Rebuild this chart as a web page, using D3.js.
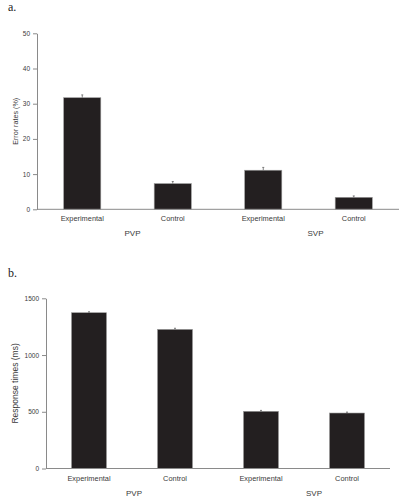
<!DOCTYPE html>
<html>
<head>
<meta charset="utf-8">
<script src="https://cdn.jsdelivr.net/npm/d3@7"></script>
<style>
  body { margin: 0; background: #fff; }
  svg { display: block; }
  text { font-family: "Liberation Sans", Arial, sans-serif; fill: #3a3a3a; }
</style>
</head>
<body>
<div id="chart"></div>
<script>
// data
var categories = ["Experimental", "Control", "Experimental", "Control"];
var groups = ["PVP", "SVP"];
var errorRates = [31.7, 7.3, 11.1, 3.4];
var errorRatesSE = [0.8, 0.6, 0.8, 0.4];
var responseTimes = [1373, 1226, 504, 489];
var responseTimesSE = [8, 10, 8, 8];
var errorTicks = [0, 10, 20, 30, 40, 50];
var timeTicks = [0, 500, 1000, 1500];

var svg = d3.select("#chart").append("svg")
    .attr("width", 399)
    .attr("height", 499);

function drawPanel(opt) {
    var g = svg.append("g");
    var idx = d3.range(categories.length);

    var x = d3.scaleBand()
        .domain(idx)
        .range([opt.left, opt.right])
        .paddingInner(opt.padIn)
        .paddingOuter(opt.padIn / 2);

    var y = d3.scaleLinear()
        .domain([0, d3.max(opt.ticks)])
        .range([opt.bottom, opt.top]);

    // panel letter
    g.append("text")
        .attr("x", 8)
        .attr("y", opt.letterY)
        .style("font-family", "'Liberation Serif', 'Times New Roman', serif")
        .style("font-size", "12px")
        .style("fill", "#222")
        .text(opt.letter);

    // bars
    g.selectAll("rect.bar")
        .data(opt.values)
        .enter()
        .append("rect")
        .attr("class", "bar")
        .attr("x", function (d, i) { return x(i); })
        .attr("y", function (d) { return y(d); })
        .attr("width", x.bandwidth())
        .attr("height", function (d) { return y(0) - y(d); })
        .attr("fill", "#231f20")
        .attr("stroke", "#9a9a9a")
        .attr("stroke-width", 0.6);

    // error bars
    var eb = g.selectAll("g.err")
        .data(opt.values)
        .enter()
        .append("g")
        .attr("class", "err");
    eb.append("line")
        .attr("x1", function (d, i) { return x(i) + x.bandwidth() / 2; })
        .attr("x2", function (d, i) { return x(i) + x.bandwidth() / 2; })
        .attr("y1", function (d) { return y(d); })
        .attr("y2", function (d, i) { return y(d + opt.se[i]); })
        .attr("stroke", "#666")
        .attr("stroke-width", 0.8);
    eb.append("line")
        .attr("x1", function (d, i) { return x(i) + x.bandwidth() / 2 - 1; })
        .attr("x2", function (d, i) { return x(i) + x.bandwidth() / 2 + 1; })
        .attr("y1", function (d, i) { return y(d + opt.se[i]); })
        .attr("y2", function (d, i) { return y(d + opt.se[i]); })
        .attr("stroke", "#666")
        .attr("stroke-width", 0.8);

    // y axis
    var yAxis = g.append("g")
        .attr("transform", "translate(" + opt.left + ",0)")
        .call(d3.axisLeft(y).tickValues(opt.ticks).tickFormat(d3.format("d"))
            .tickSize(4).tickSizeOuter(0).tickPadding(3));
    yAxis.select(".domain").attr("stroke", "#8a8a8a");
    yAxis.selectAll(".tick line").attr("stroke", "#8a8a8a");
    yAxis.selectAll(".tick text")
        .style("font-family", "'Liberation Sans', Arial, sans-serif")
        .style("font-size", opt.tickFont)
        .style("fill", "#3a3a3a");

    // x axis line
    g.append("line")
        .attr("x1", opt.left)
        .attr("x2", opt.right)
        .attr("y1", y(0))
        .attr("y2", y(0))
        .attr("stroke", "#8a8a8a")
        .attr("stroke-width", 1);

    // category labels
    g.selectAll("text.cat")
        .data(categories)
        .enter()
        .append("text")
        .attr("class", "cat")
        .attr("x", function (d, i) { return x(i) + x.bandwidth() / 2; })
        .attr("y", y(0) + 12)
        .attr("text-anchor", "middle")
        .style("font-size", "7.4px")
        .text(function (d) { return d; });

    // group labels
    g.selectAll("text.grp")
        .data(groups)
        .enter()
        .append("text")
        .attr("class", "grp")
        .attr("x", function (d, i) {
            return (x(2 * i) + x(2 * i + 1) + x.bandwidth()) / 2 + opt.grpShift[i];
        })
        .attr("y", y(0) + 27)
        .attr("text-anchor", "middle")
        .style("font-size", "8px")
        .text(function (d) { return d; });

    // y title
    g.append("text")
        .attr("transform", "translate(" + opt.titleX + "," + ((opt.top + opt.bottom) / 2) + ") rotate(-90)")
        .attr("text-anchor", "middle")
        .style("font-size", opt.titleFont)
        .text(opt.title);
}

drawPanel({
    letter: "a.", letterY: 11,
    left: 37, right: 399, top: 33.3, bottom: 209.3, padIn: 0.59,
    values: errorRates, se: errorRatesSE, ticks: errorTicks,
    tickFont: "6.5px", title: "Error rates (%)", titleX: 18, titleFont: "7.2px",
    grpShift: [5, 7]
});

drawPanel({
    letter: "b.", letterY: 277,
    left: 46, right: 390, top: 298.3, bottom: 468.5, padIn: 0.593,
    values: responseTimes, se: responseTimesSE, ticks: timeTicks,
    tickFont: "6.5px", title: "Response times (ms)", titleX: 18, titleFont: "8.5px",
    grpShift: [2, 10]
});
</script>
</body>
</html>
